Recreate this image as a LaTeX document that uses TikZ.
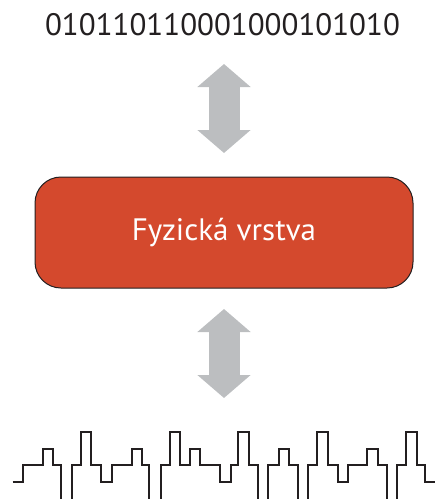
\documentclass[tikz,border=0pt]{standalone}
\usepackage{fontspec}
\setmainfont{PT Sans}
\usetikzlibrary{arrows.meta}
\definecolor{boxred}{RGB}{212,73,45}
\definecolor{arrowgray}{RGB}{188,190,192}
\definecolor{inkdark}{RGB}{35,31,32}
\tikzset{
  bitstext/.style={inner sep=0pt, text=inkdark, font=\fontsize{31}{36}\selectfont},
  layerbox/.style={draw=inkdark, line width=1pt, fill=boxred, rounded corners=26pt,
    minimum width=378pt, minimum height=111pt, text=white, font=\fontsize{31}{36}\selectfont},
  bigarrow/.style={draw=arrowgray, line width=31pt,
    {Triangle[length=23pt,width=52pt]}-{Triangle[length=23pt,width=52pt]}},
  wave/.style={draw=inkdark, line width=2pt, line join=miter}
}
\begin{document}
\begin{tikzpicture}[x=1pt,y=-1pt]
\useasboundingbox (0,0) rectangle (435,499);
\node[bitstext] (bits) at (222.5,25) {010110110001000101010};
\node[layerbox] (fv) at (224,232.5) {Fyzická vrstva};
\coordinate (a1t) at (224,64);
\coordinate (a1b) at (224,153);
\coordinate (a2t) at (224,309);
\coordinate (a2b) at (224,398);
\draw[bigarrow] (a1t) -- (a1b);
\draw[bigarrow] (a2t) -- (a2b);
% waveform
\draw[wave] (12.7,482) -| (23.3,465) -| (43.3,449) -| (52.7,465) -| (61,500);
\draw[wave] (71.7,500) |- (81,465) |- (90.7,432) |- (101,465) |- (112,482) |- (131.7,465) |- (141.7,449) |- (149,465) -- (149,500);
\draw[wave] (160.7,500) |- (170,465) |- (179.7,432) |- (190,465) |- (200.3,449) |- (220,465) |- (230.7,482) |- (238.3,465) |- (249.3,432) |- (258.3,465) -- (258.3,500);
\draw[wave] (268.3,500) |- (278.7,465) |- (288.7,449) |- (298.3,465) -- (298.3,500);
\draw[wave] (307.7,500) |- (317,465) |- (328.3,432) |- (337.7,465) |- (347.7,482) |- (366.7,465) |- (377.7,449) |- (387,465) -- (387,500);
\draw[wave] (396.7,500) |- (406,465) |- (416.7,432) |- (425,465) |- (436,482);
\end{tikzpicture}
\end{document}
